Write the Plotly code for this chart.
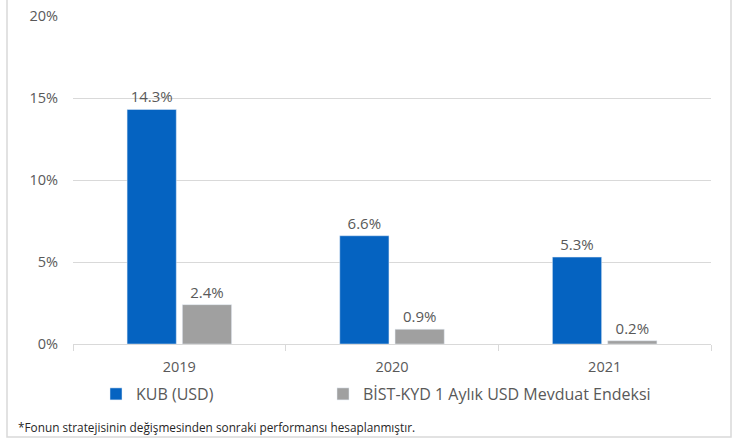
import plotly.graph_objects as go

years = ["2019", "2020", "2021"]
kub = [14.3, 6.6, 5.3]
bist = [2.4, 0.9, 0.2]
series_names = ["KUB (USD)", "BİST-KYD 1 Aylık USD Mevduat Endeksi"]
footnote = "*Fonun stratejisinin değişmesinden sonraki performansı hesaplanmıştır."

FONT = "Open Sans"
TXT = "#595959"

fig = go.Figure()
fig.add_trace(go.Bar(x=years, y=kub, name=series_names[0], marker_color="#0563C1",
                     text=[f"{v:.1f}%" for v in kub], textposition="outside",
                     textfont=dict(size=15, color=TXT, family=FONT), cliponaxis=False,
                     legend="legend", showlegend=True))
fig.add_trace(go.Bar(x=years, y=bist, name=series_names[1], marker_color="#A0A0A0",
                     text=[f"{v:.1f}%" for v in bist], textposition="outside",
                     textfont=dict(size=15, color=TXT, family=FONT), cliponaxis=False,
                     legend="legend2", showlegend=True))

leg_common = dict(orientation="h", xanchor="left", y=-(377-344)/328, yanchor="top",
                  font=dict(size=16, color=TXT, family=FONT), itemwidth=30,
                  bgcolor="rgba(0,0,0,0)")

fig.update_layout(
    width=737, height=439,
    showlegend=True,
    margin=dict(l=73, r=26, t=16, b=95, autoexpand=False),
    paper_bgcolor="white", plot_bgcolor="white",
    barmode="group", bargap=0.48, bargroupgap=0.11,
    font=dict(family=FONT, color=TXT, size=14),
    legend=dict(x=(96-73)/638, **leg_common),
    legend2=dict(x=(323-73)/638, **leg_common),
    yaxis=dict(range=[0, 20], dtick=5, ticksuffix="%", showgrid=True,
               gridcolor="#D9D9D9", gridwidth=1, zeroline=False,
               tickfont=dict(size=14.5, color=TXT), showline=False, ticklabelstandoff=14),
    xaxis=dict(showline=True, linecolor="#D9D9D9", linewidth=1, ticks="outside",
               tickson="boundaries", ticklen=6, tickcolor="#D9D9D9",
               tickfont=dict(size=14.5, color=TXT), ticklabelstandoff=10),
)
fig.add_shape(type="rect", xref="paper", yref="paper",
              x0=-66/638, x1=(731-73)/638, y0=-(437-344)/328, y1=1.2,
              line=dict(color="#D9D9D9", width=1.5), layer="below")
fig.add_annotation(text=footnote, xref="paper", yref="paper",
                   x=-(73-16)/638, y=-(427-344)/328, xanchor="left", yanchor="middle",
                   showarrow=False, font=dict(size=11.8, color="#262626", family=FONT))

fig.write_html("out.html", config={"displayModeBar": False},
               post_script="document.body.style.margin='0';")
